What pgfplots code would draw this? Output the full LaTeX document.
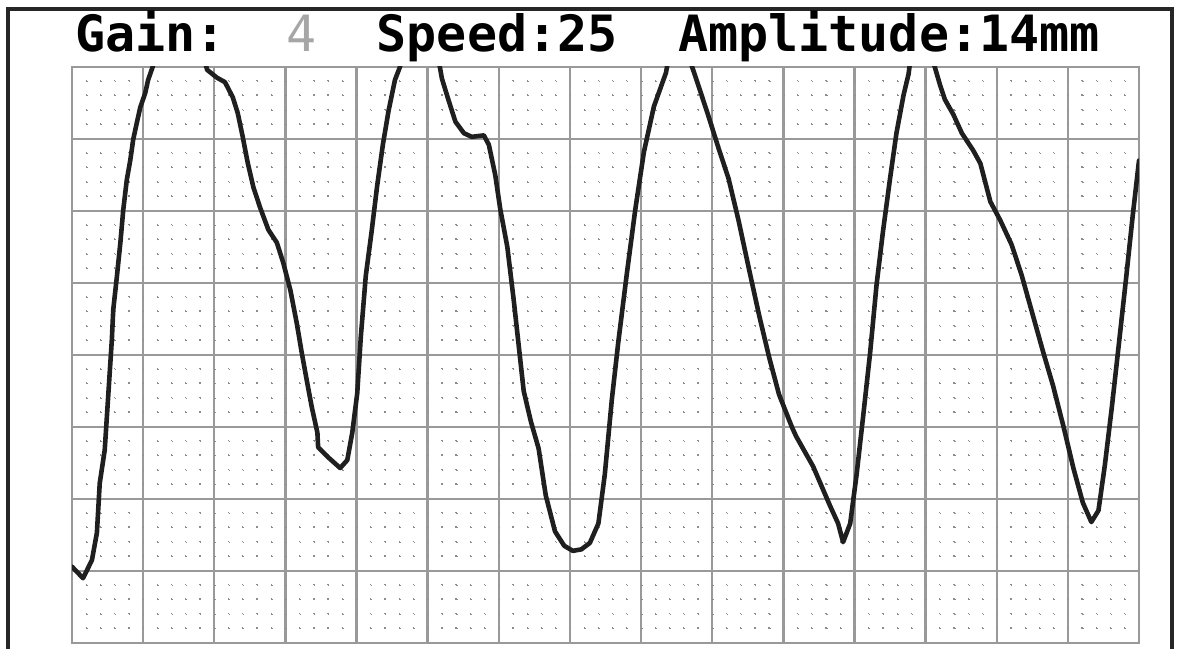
\documentclass[border=0pt]{standalone}
\usepackage{pgfplots}
\pgfplotsset{compat=1.18}
\usepackage{fontspec}
\newfontfamily\monofont{DejaVu Sans Mono}

% trace, in grid divisions (15 x 8)
\pgfplotstableread{
x y
0.00 1.06
0.155 0.90
0.28 1.15
0.35 1.53
0.39 2.22
0.46 2.68
0.56 4.21
0.58 4.63
0.63 5.08
0.68 5.56
0.72 6.01
0.77 6.43
0.82 6.71
0.86 6.99
0.91 7.22
0.96 7.44
1.03 7.64
1.07 7.82
1.13 7.99
1.25 8.40
1.78 8.40
1.90 7.96
2.04 7.85
2.15 7.79
2.26 7.58
2.33 7.36
2.40 7.03
2.47 6.67
2.55 6.33
2.64 6.06
2.76 5.74
2.88 5.56
2.97 5.28
3.07 4.90
3.16 4.44
3.23 4.03
3.30 3.65
3.37 3.28
3.45 2.92
3.46 2.72
3.60 2.58
3.77 2.43
3.87 2.54
3.94 2.92
4.01 3.47
4.06 4.25
4.13 5.10
4.21 5.70
4.29 6.35
4.37 6.92
4.45 7.39
4.54 7.82
4.61 8.00
4.70 8.40
5.10 8.40
5.20 7.84
5.29 7.55
5.39 7.24
5.51 7.08
5.62 7.03
5.79 7.05
5.86 6.92
5.95 6.50
6.02 6.03
6.12 5.50
6.21 4.76
6.28 4.13
6.35 3.50
6.45 3.08
6.56 2.70
6.66 2.05
6.79 1.55
6.92 1.35
7.04 1.28
7.16 1.30
7.28 1.39
7.40 1.66
7.49 2.34
7.59 3.39
7.68 4.18
7.80 5.13
7.92 6.03
8.04 6.82
8.18 7.45
8.35 7.92
8.40 8.20
8.65 8.20
8.80 7.76
8.94 7.34
9.09 6.87
9.23 6.45
9.37 5.87
9.52 5.18
9.66 4.55
9.80 3.97
9.94 3.45
10.12 3.00
10.18 2.87
10.42 2.45
10.65 1.92
10.77 1.66
10.84 1.40
10.94 1.66
11.03 2.34
11.12 3.13
11.22 4.03
11.31 4.97
11.40 5.71
11.50 6.45
11.59 7.08
11.69 7.61
11.76 7.90
11.80 8.20
12.07 8.20
12.20 7.76
12.27 7.55
12.39 7.34
12.51 7.08
12.67 6.84
12.77 6.66
12.91 6.13
13.05 5.87
13.21 5.53
13.35 5.11
13.50 4.58
13.65 4.05
13.79 3.58
13.94 3.00
14.08 2.42
14.21 1.95
14.33 1.68
14.43 1.84
14.52 2.47
14.62 3.29
14.72 4.18
14.82 5.08
14.91 5.92
15.00 6.70
}\trace

\begin{document}
\begin{tikzpicture}[x=1bp,y=1bp]
  \useasboundingbox (0,0) rectangle (1177,649);
  \begin{axis}[
      at={(72bp,6bp)}, anchor=south west,
      scale only axis, width=1067bp, height=576bp,
      xmin=0, xmax=15, ymin=0, ymax=8,
      xtick={0,...,15}, ytick={0,...,8},
      minor x tick num=4, minor y tick num=4,
      xticklabels={}, yticklabels={},
      tick style={draw=none},
      grid=both,
      major grid style={black!40, line width=2.4bp},
      minor x grid style={black!45, line width=1.3bp, dash pattern=on 1.3bp off 13.1bp},
      minor y grid style={black!45, line width=1.3bp, dash pattern=on 1.3bp off 12.93bp},
      axis line style={black!40, line width=2.4bp},
    ]
    \addplot[black!88, line width=4.6bp, line join=round, line cap=round] table[x=x, y=y] {\trace};
  \end{axis}
  % screen frame
  \draw[line width=4bp, black!85] (8,0) -- (8,639.5) -- (1171.5,639.5) -- (1171.5,0);
  % header
  \begin{scope}[every node/.style={anchor=base west, inner sep=0pt, font=\monofont\bfseries\fontsize{50bp}{60bp}\selectfont}]
    \node at (75,597) {Gain:};
    \node[text=black!35, font=\monofont\fontsize{50bp}{60bp}\selectfont] at (286,597) {4};
    \node at (376.5,597) {Speed:25};
    \node at (678,597) {Amplitude:14mm};
  \end{scope}
\end{tikzpicture}
\end{document}
